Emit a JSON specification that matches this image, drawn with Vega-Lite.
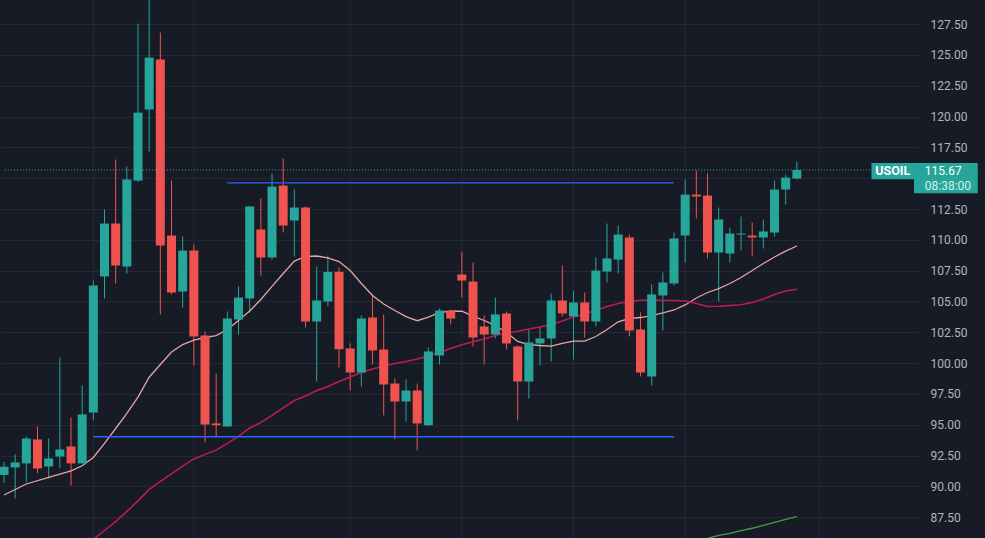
{
  "$schema": "https://vega.github.io/schema/vega-lite/v6.json",
  "width": 919,
  "height": 538,
  "autosize": {"type": "none"},
  "padding": {"left": 0, "top": 0, "right": 66, "bottom": 0},
  "background": "#171b26",
  "view": {"stroke": null},
  "config": {
    "font": "Roboto",
    "axis": {"labelOverlap": false, "labelSeparation": 0}
  },
  "datasets": {
    "candles": [
      {"k":0,"o":90.92,"h":92.0,"l":90.3,"c":91.60},
      {"k":1,"o":91.54,"h":92.60,"l":89.03,"c":91.95},
      {"k":2,"o":91.87,"h":94.06,"l":90.33,"c":93.89},
      {"k":3,"o":93.81,"h":94.87,"l":91.06,"c":91.46},
      {"k":4,"o":91.62,"h":93.89,"l":90.65,"c":92.27},
      {"k":5,"o":92.43,"h":100.46,"l":91.46,"c":93.0},
      {"k":6,"o":93.24,"h":95.6,"l":90.08,"c":91.87},
      {"k":7,"o":91.87,"h":98.19,"l":91.87,"c":95.84},
      {"k":8,"o":96.0,"h":106.70,"l":95.35,"c":106.3},
      {"k":9,"o":107.03,"h":112.46,"l":105.24,"c":111.32},
      {"k":10,"o":111.32,"h":116.51,"l":106.46,"c":107.92},
      {"k":11,"o":107.84,"h":115.94,"l":107.27,"c":114.89},
      {"k":12,"o":114.81,"h":127.54,"l":114.7,"c":120.32},
      {"k":13,"o":120.57,"h":129.8,"l":117.16,"c":124.78},
      {"k":14,"o":124.62,"h":126.81,"l":103.95,"c":109.54},
      {"k":15,"o":110.35,"h":114.81,"l":105.57,"c":105.73},
      {"k":16,"o":105.81,"h":110.27,"l":104.51,"c":109.13},
      {"k":17,"o":109.13,"h":109.62,"l":99.81,"c":102.16},
      {"k":18,"o":102.24,"h":102.57,"l":93.57,"c":95.03},
      {"k":19,"o":95.11,"h":99.16,"l":94.06,"c":94.97},
      {"k":20,"o":94.87,"h":104.19,"l":94.87,"c":103.62},
      {"k":21,"o":103.54,"h":106.22,"l":102.32,"c":105.32},
      {"k":22,"o":105.24,"h":112.75,"l":104.11,"c":112.70},
      {"k":23,"o":110.84,"h":113.35,"l":107.1,"c":108.57},
      {"k":24,"o":108.57,"h":115.38,"l":108.4,"c":114.32},
      {"k":25,"o":114.4,"h":116.59,"l":110.6,"c":111.16},
      {"k":26,"o":111.57,"h":114.08,"l":108.65,"c":112.62},
      {"k":27,"o":112.62,"h":112.7,"l":102.89,"c":103.38},
      {"k":28,"o":103.38,"h":107.84,"l":98.51,"c":105.08},
      {"k":29,"o":105.0,"h":108.73,"l":104.62,"c":107.4},
      {"k":30,"o":107.41,"h":107.76,"l":99.65,"c":101.13},
      {"k":31,"o":101.19,"h":101.6,"l":97.79,"c":99.24},
      {"k":32,"o":99.24,"h":103.86,"l":98.11,"c":103.62},
      {"k":33,"o":103.7,"h":105.57,"l":99.89,"c":101.03},
      {"k":34,"o":101.11,"h":103.95,"l":95.76,"c":98.27},
      {"k":35,"o":98.35,"h":98.76,"l":93.81,"c":96.89},
      {"k":36,"o":96.89,"h":98.68,"l":95.27,"c":97.78},
      {"k":37,"o":97.78,"h":98.35,"l":92.92,"c":95.11},
      {"k":38,"o":94.97,"h":101.27,"l":94.87,"c":100.95},
      {"k":39,"o":100.62,"h":104.43,"l":99.89,"c":104.27},
      {"k":40,"o":104.27,"h":104.3,"l":103.14,"c":103.62},
      {"k":41,"o":107.19,"h":109.05,"l":105.32,"c":106.7},
      {"k":42,"o":106.62,"h":108.16,"l":101.35,"c":102.08},
      {"k":43,"o":102.97,"h":103.86,"l":99.89,"c":102.32},
      {"k":44,"o":102.32,"h":105.32,"l":102.0,"c":103.95},
      {"k":45,"o":104.03,"h":104.19,"l":101.11,"c":101.6},
      {"k":46,"o":101.35,"h":101.43,"l":95.35,"c":98.51},
      {"k":47,"o":98.51,"h":102.73,"l":97.14,"c":101.68},
      {"k":48,"o":101.6,"h":102.89,"l":99.81,"c":102.0},
      {"k":49,"o":102.0,"h":105.65,"l":100.14,"c":105.08},
      {"k":50,"o":105.08,"h":107.92,"l":103.78,"c":104.03},
      {"k":51,"o":103.78,"h":105.89,"l":100.3,"c":104.92},
      {"k":52,"o":104.92,"h":105.73,"l":102.08,"c":103.38},
      {"k":53,"o":103.38,"h":108.57,"l":102.97,"c":107.51},
      {"k":54,"o":107.43,"h":111.32,"l":106.54,"c":108.49},
      {"k":55,"o":108.4,"h":111.16,"l":107.27,"c":110.43},
      {"k":56,"o":110.19,"h":110.43,"l":102.16,"c":102.65},
      {"k":57,"o":102.73,"h":104.11,"l":98.92,"c":99.24},
      {"k":58,"o":98.92,"h":106.38,"l":98.19,"c":105.57},
      {"k":59,"o":105.49,"h":107.35,"l":102.65,"c":106.54},
      {"k":60,"o":106.46,"h":110.59,"l":106.3,"c":110.11},
      {"k":61,"o":110.35,"h":114.89,"l":108.16,"c":113.67},
      {"k":62,"o":113.67,"h":115.62,"l":111.73,"c":113.51},
      {"k":63,"o":113.59,"h":115.38,"l":108.49,"c":108.97},
      {"k":64,"o":108.97,"h":112.62,"l":105.0,"c":111.65},
      {"k":65,"o":108.89,"h":111.0,"l":108.16,"c":110.51},
      {"k":66,"o":110.43,"h":111.89,"l":109.13,"c":110.51},
      {"k":67,"o":110.35,"h":111.4,"l":108.65,"c":110.19},
      {"k":68,"o":110.19,"h":111.65,"l":109.3,"c":110.68},
      {"k":69,"o":110.59,"h":114.81,"l":110.27,"c":114.08},
      {"k":70,"o":114.08,"h":115.30,"l":112.86,"c":115.05},
      {"k":71,"o":114.97,"h":116.35,"l":114.89,"c":115.67}
    ],
    "ma_fast": [
      {"k":0,"v":89.31},{"k":2,"v":90.2},{"k":4,"v":90.73},{"k":6,"v":91.27},{"k":7,"v":91.68},
      {"k":8,"v":92.35},{"k":9,"v":93.49},{"k":10,"v":94.70},{"k":11,"v":95.92},{"k":12,"v":97.24},
      {"k":13,"v":98.86},{"k":14,"v":99.89},{"k":15,"v":100.90},{"k":16,"v":101.51},{"k":17,"v":101.86},
      {"k":18,"v":102.08},{"k":19,"v":102.24},{"k":20,"v":102.73},{"k":21,"v":103.46},{"k":22,"v":104.23},
      {"k":23,"v":105.16},{"k":24,"v":106.22},{"k":25,"v":107.27},{"k":26,"v":108.28},{"k":27,"v":108.65},
      {"k":28,"v":108.69},{"k":29,"v":108.53},{"k":30,"v":108.24},{"k":31,"v":107.51},{"k":32,"v":106.46},
      {"k":33,"v":105.49},{"k":34,"v":104.80},{"k":35,"v":104.27},{"k":36,"v":103.78},{"k":37,"v":103.44},
      {"k":38,"v":103.74},{"k":39,"v":104.11},{"k":40,"v":104.21},{"k":41,"v":104.21},{"k":42,"v":103.82},
      {"k":43,"v":103.46},{"k":44,"v":103.05},{"k":45,"v":102.49},{"k":46,"v":101.76},{"k":47,"v":101.51},
      {"k":48,"v":101.43},{"k":49,"v":101.38},{"k":50,"v":101.60},{"k":51,"v":101.78},{"k":52,"v":101.78},
      {"k":53,"v":102.16},{"k":54,"v":102.73},{"k":55,"v":103.35},{"k":56,"v":103.62},{"k":57,"v":103.70},
      {"k":58,"v":103.86},{"k":59,"v":104.07},{"k":60,"v":104.31},{"k":61,"v":104.72},{"k":62,"v":105.28},
      {"k":63,"v":105.73},{"k":64,"v":106.05},{"k":65,"v":106.46},{"k":66,"v":106.95},{"k":67,"v":107.51},
      {"k":68,"v":108.08},{"k":69,"v":108.61},{"k":70,"v":109.09},{"k":71,"v":109.50}
    ],
    "ma_mid": [
      {"k":7,"v":84.98},{"k":8,"v":85.71},{"k":9,"v":86.43},{"k":10,"v":87.15},{"k":11,"v":87.98},
      {"k":12,"v":88.83},{"k":13,"v":89.76},{"k":14,"v":90.41},{"k":15,"v":91.02},{"k":16,"v":91.65},
      {"k":17,"v":92.23},{"k":18,"v":92.60},{"k":19,"v":92.95},{"k":20,"v":93.49},{"k":21,"v":94.06},
      {"k":22,"v":94.74},{"k":23,"v":95.19},{"k":24,"v":95.76},{"k":25,"v":96.38},{"k":26,"v":96.97},
      {"k":27,"v":97.34},{"k":28,"v":97.78},{"k":29,"v":98.11},{"k":30,"v":98.51},{"k":31,"v":98.88},
      {"k":32,"v":99.24},{"k":33,"v":99.53},{"k":34,"v":99.77},{"k":35,"v":99.97},{"k":36,"v":100.14},
      {"k":37,"v":100.34},{"k":38,"v":100.58},{"k":39,"v":100.87},{"k":40,"v":101.19},{"k":41,"v":101.49},
      {"k":42,"v":101.73},{"k":43,"v":101.96},{"k":44,"v":102.24},{"k":45,"v":102.45},{"k":46,"v":102.59},
      {"k":47,"v":102.77},{"k":48,"v":102.93},{"k":49,"v":103.14},{"k":50,"v":103.42},{"k":51,"v":103.73},
      {"k":52,"v":103.99},{"k":53,"v":104.29},{"k":54,"v":104.59},{"k":55,"v":104.84},{"k":56,"v":105.02},
      {"k":57,"v":105.11},{"k":58,"v":105.11},{"k":59,"v":105.10},{"k":60,"v":105.08},{"k":61,"v":105.04},
      {"k":62,"v":104.84},{"k":63,"v":104.59},{"k":64,"v":104.61},{"k":65,"v":104.68},{"k":66,"v":104.74},
      {"k":67,"v":104.92},{"k":68,"v":105.20},{"k":69,"v":105.57},{"k":70,"v":105.85},{"k":71,"v":106.00}
    ],
    "ma_slow": [
      {"k":62,"v":85.54},{"k":63,"v":85.79},{"k":64,"v":86.03},{"k":65,"v":86.19},{"k":66,"v":86.41},
      {"k":67,"v":86.61},{"k":68,"v":86.84},{"k":69,"v":87.08},{"k":70,"v":87.33},{"k":71,"v":87.55}
    ],
    "vgrid": [{"k":8},{"k":17},{"k":31},{"k":41},{"k":51},{"k":61},{"k":73}],
    "levels": [
      {"from":20,"to":60,"p":114.62},
      {"from":8,"to":60,"p":94.03}
    ],
    "tag": [{"sym":"USOIL","price":115.67,"time":"08:38:00"}]
  },
  "layer": [
    {
      "data": {"name": "vgrid"},
      "mark": {"type": "rule", "color": "#242834", "strokeWidth": 1},
      "encoding": {
        "x": {"field": "k", "type": "quantitative", "scale": {"domain": [0.0886, 81.49], "nice": false, "zero": false}, "axis": null}
      }
    },
    {
      "data": {"name": "candles"},
      "mark": {"type": "rule", "strokeWidth": 1, "clip": true},
      "encoding": {
        "x": {"field": "k", "type": "quantitative"},
        "y": {
          "field": "l", "type": "quantitative",
          "scale": {"domain": [85.82, 129.45], "nice": false, "zero": false},
          "axis": {
            "orient": "right", "title": null,
            "values": [87.5, 90, 92.5, 95, 97.5, 100, 102.5, 105, 107.5, 110, 112.5, 115, 117.5, 120, 122.5, 125, 127.5],
            "tickCount": 40,
            "format": ".2f",
            "labelExpr": "datum.value == 115 ? '' : datum.label",
            "grid": true, "gridColor": "#242834", "gridWidth": 1,
            "domain": false, "ticks": false, "labelPadding": 11,
            "labelFont": "Roboto", "labelFontSize": 12, "labelColor": "#b2b5be",
            "labelOverlap": false, "labelSeparation": 0, "labelFlush": false
          }
        },
        "y2": {"field": "h"},
        "color": {"condition": {"test": "datum.c >= datum.o", "value": "#26a69a"}, "value": "#ef5350"}
      }
    },
    {
      "data": {"name": "ma_fast"},
      "mark": {"type": "line", "color": "#e8a3a3", "strokeWidth": 1.3, "clip": true},
      "encoding": {
        "x": {"field": "k", "type": "quantitative"},
        "y": {"field": "v", "type": "quantitative"}
      }
    },
    {
      "data": {"name": "ma_mid"},
      "mark": {"type": "line", "color": "#c2185b", "strokeWidth": 1.5, "clip": true},
      "encoding": {
        "x": {"field": "k", "type": "quantitative"},
        "y": {"field": "v", "type": "quantitative"}
      }
    },
    {
      "data": {"name": "ma_slow"},
      "mark": {"type": "line", "color": "#43a047", "strokeWidth": 1.3, "clip": true},
      "encoding": {
        "x": {"field": "k", "type": "quantitative"},
        "y": {"field": "v", "type": "quantitative"}
      }
    },
    {
      "data": {"name": "candles"},
      "mark": {"type": "bar", "size": 9, "clip": true},
      "encoding": {
        "x": {"field": "k", "type": "quantitative"},
        "y": {"field": "o", "type": "quantitative"},
        "y2": {"field": "c"},
        "color": {"condition": {"test": "datum.c >= datum.o", "value": "#26a69a"}, "value": "#ef5350"}
      }
    },
    {
      "data": {"name": "levels"},
      "mark": {"type": "rule", "color": "#2962ff", "strokeWidth": 1.3},
      "encoding": {
        "x": {"field": "from", "type": "quantitative"},
        "x2": {"field": "to"},
        "y": {"field": "p", "type": "quantitative"}
      }
    },
    {
      "data": {"name": "tag"},
      "mark": {"type": "rule", "color": "#26a69a", "strokeWidth": 1, "strokeDash": [1, 2]},
      "encoding": {
        "x": {"datum": 0.0886},
        "x2": {"datum": 77.68},
        "y": {"field": "price", "type": "quantitative"}
      }
    },
    {
      "data": {"name": "tag"},
      "mark": {"type": "rect", "color": "#26a69a", "clip": false},
      "encoding": {
        "x": {"datum": 77.68},
        "x2": {"datum": 81.49},
        "y": {"datum": 116.24},
        "y2": {"datum": 114.91}
      }
    },
    {
      "data": {"name": "tag"},
      "mark": {"type": "rect", "color": "#26a69a", "clip": false},
      "encoding": {
        "x": {"datum": 81.49},
        "x2": {"datum": 87.2},
        "y": {"datum": 116.24},
        "y2": {"datum": 113.78}
      }
    },
    {
      "data": {"name": "tag"},
      "mark": {"type": "text", "color": "#ffffff", "font": "Roboto", "fontSize": 12.5, "fontWeight": "bold", "align": "center", "baseline": "middle", "dy": 1},
      "encoding": {
        "x": {"datum": 79.585},
        "y": {"field": "price", "type": "quantitative"},
        "text": {"field": "sym"}
      }
    },
    {
      "data": {"name": "tag"},
      "mark": {"type": "text", "color": "#ffffff", "font": "Roboto", "fontSize": 12, "align": "left", "baseline": "middle", "dy": 1},
      "encoding": {
        "x": {"datum": 82.46},
        "y": {"field": "price", "type": "quantitative"},
        "text": {"field": "price", "format": ".2f"}
      }
    },
    {
      "data": {"name": "tag"},
      "mark": {"type": "text", "color": "#d4efec", "font": "Roboto", "fontSize": 12, "align": "left", "baseline": "middle", "dy": 16},
      "encoding": {
        "x": {"datum": 82.46},
        "y": {"field": "price", "type": "quantitative"},
        "text": {"field": "time"}
      }
    }
  ]
}
